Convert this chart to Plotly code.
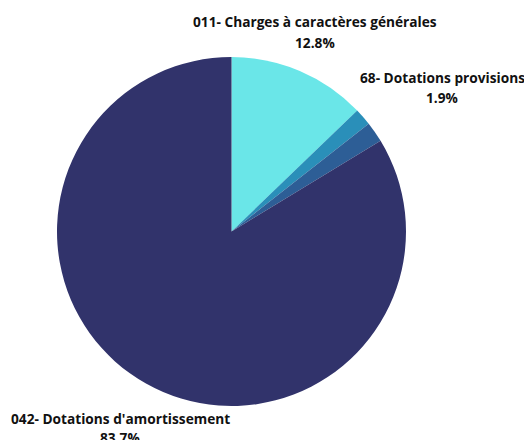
import plotly.graph_objects as go

labels = ["011- Charges à caractères générales", "Autres charges", "68- Dotations provisions", "042- Dotations d'amortissement"]
values = [12.8, 1.6, 1.9, 83.7]
colors = ["#6ae6e8", "#2a8fb9", "#2d5e96", "#31336b"]
shown = [True, False, True, True]

W, H = 524, 440
fig = go.Figure(go.Pie(
    labels=labels, values=values, sort=False, direction="clockwise", rotation=0,
    marker=dict(colors=colors, line=dict(width=0)),
    textinfo="none", hoverinfo="label+percent", showlegend=False,
    domain=dict(x=[57 / W, 406 / W], y=[(H - 406) / H, (H - 57) / H]),
))

# label positions (pixels): (center x, line1 y, line2 y)
label_pos = [(315, 21, 42), None, (442, 77, 97), (120, 418, 437)]
font = dict(family="Open Sans", size=13.7, color="#111111")
for lab, val, show, pos in zip(labels, values, shown, label_pos):
    if not show:
        continue
    cx, y1, y2 = pos
    for txt, yy in ((f"<b>{lab}</b>", y1), (f"<b>{val:.1f}%</b>", y2)):
        fig.add_annotation(x=cx / W, y=1 - yy / H, xref="paper", yref="paper",
                           text=txt, showarrow=False, xanchor="center", yanchor="middle",
                           font=font)

fig.update_layout(width=W, height=H, margin=dict(l=0, r=0, t=0, b=0),
                  paper_bgcolor="white", plot_bgcolor="white")
fig.write_html("out.html", config={"displayModeBar": False},
               post_script="document.body.style.margin='0';document.body.style.overflow='hidden';")
